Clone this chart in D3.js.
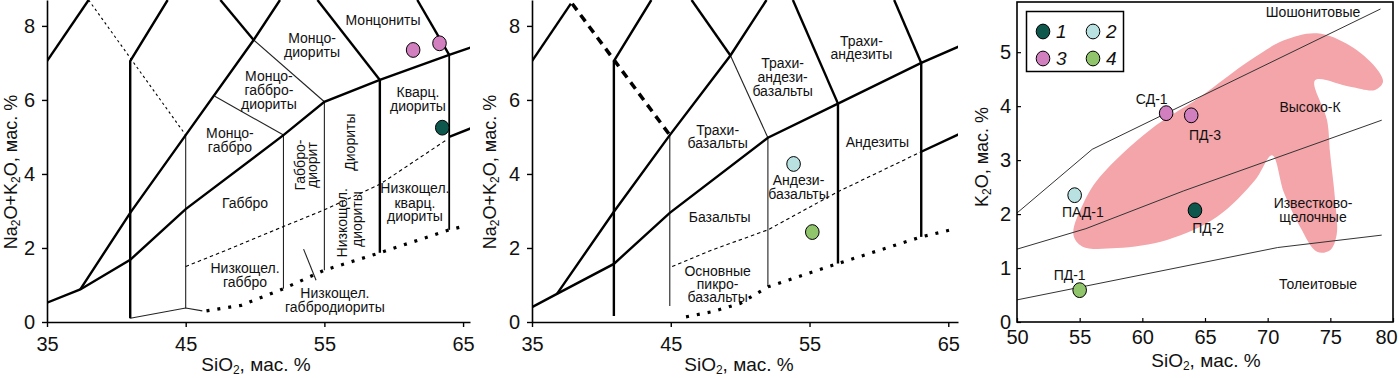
<!DOCTYPE html>
<html><head><meta charset="utf-8">
<script src="https://cdn.jsdelivr.net/npm/d3@7"></script>
<style>body{margin:0;background:#fff} text{font-family:"Liberation Sans",Arial,sans-serif;fill:#111}</style>
</head><body>
<svg id="c" width="1400" height="378"></svg>
<script>
// ---------- data ----------
const tasXTicks = [35, 45, 55, 65];
const tasYTicks = [0, 2, 4, 6, 8];
const kXTicks = [50, 55, 60, 65, 70, 75, 80];
const kYTicks = [0, 1, 2, 3, 4, 5];

const groupColors = {1: "#0e574d", 2: "#b9e1e1", 3: "#d27fc0", 4: "#90c56c"};
const legendItems = [1, 2, 3, 4];

// Panel 1 (plutonic TAS) boundaries
const p1Thick = [
  [[35,7.05],[38,8.7]],
  [[41,0.1],[41,7.05],[43.7,8.7]],
  [[35,0.52],[37.4,0.88],[41,1.68],[45,3.05],[52.05,5.05],[55,5.95],[59,6.54],[64,7.22],[65.6,7.42]],
  [[37.4,0.88],[41,2.95],[45,5.05],[49.9,7.62],[51.8,8.7]],
  [[47.5,8.7],[49.9,7.62]],
  [[54.5,8.7],[59,6.54]],
  [[61.7,8.7],[64,7.22]],
  [[64,5.0],[65.6,5.24]],
  [[59,1.87],[59,6.54]]
];
const p1Thin = [
  [[41,0.1],[45,0.38],[46.2,0.3]],
  [[45,0.38],[45,5.05]],
  [[47.1,6.1],[52.05,5.05]],
  [[49.9,7.62],[55,5.95]],
  [[52.05,0.9],[52.05,5.05]],
  [[55,1.4],[55,5.95]],
  [[53.5,1.97],[54.4,1.13]]
];
const p1Medium = [ [[64,2.49],[64,7.22]] ];
const p1DashSmall = [ [[38,8.7],[45,5.05]] ];
const p1DashCurve = [ [[45,1.5],[48,1.95],[52.05,2.58],[55,3.03],[59,3.72],[63.8,4.92]] ];
const p1Dotted = [ [[46.5,0.3],[49,0.45],[52.05,0.9],[55,1.4],[59,1.87],[64,2.49],[65.2,2.6]] ];

// Panel 2 (volcanic TAS) boundaries
const p2Thick = [
  [[35,7.05],[37.8,8.6]],
  [[40.9,0.16],[40.9,7.05],[43.6,8.7]],
  [[35,0.4],[36.8,0.76],[40.9,1.57],[44.93,2.95],[52,4.98],[57.05,5.9],[63.05,7.0],[65.8,7.45]],
  [[36.8,0.76],[40.9,2.98],[44.93,5.05],[49.3,7.2],[51.9,8.7]],
  [[46.5,8.7],[49.3,7.2]],
  [[53.8,8.7],[57.05,5.9]],
  [[61.1,8.7],[63.05,7.0]],
  [[63.05,4.6],[65.8,5.08]],
  [[57.05,1.58],[57.05,5.9]],
  [[63.05,2.3],[63.05,7.0]]
];
const p2Thin = [
  [[44.93,0.43],[44.93,5.05]],
  [[52,0.97],[52,4.98]],
  [[49.3,7.2],[52,4.98]]
];
const p2DashThick = [ [[37.9,8.6],[44.93,5.05]] ];
const p2DashCurve = [ [[45.1,1.5],[48,1.95],[52,2.49],[57.05,3.52],[63.05,4.6]] ];
const p2Dotted = [ [[46.1,0.14],[48,0.28],[50,0.5],[52,0.95],[57.05,1.58],[63.05,2.3],[65.3,2.5]] ];

// Panel 3 (K2O–SiO2) boundaries
const kLines = [
  [[50,2.02],[56,3.2],[79,5.8]],
  [[50,1.35],[55.5,1.73],[63.3,2.43],[79.1,3.74]],
  [[50,0.41],[70.8,1.38],[79.1,1.61]]
];
// pink field outline
const kField = [[54.5,1.62],[55.3,2.2],[56.62,2.69],[60.61,3.56],[64.6,4.17],[68.6,4.85],[71.3,5.22],[73.94,5.35],[76.58,5.12],[78.6,4.72],[79.2,4.45],[78.57,4.3],[76.58,4.36],[73.78,4.48],[74.74,3.74],[74.98,3.13],[75.38,2.26],[75.5,1.61],[74.98,1.33],[73.94,1.3],[72.59,1.76],[71.31,2.39],[70.35,3.09],[69.0,2.63],[65.96,1.95],[61.97,1.52],[57.98,1.37],[55.2,1.4]];

// sample points
const p1Points = [{x:61.4,y:7.35,g:3},{x:63.3,y:7.53,g:3},{x:63.5,y:5.25,g:1}];
const p2Points = [{x:53.85,y:4.27,g:2},{x:55.2,y:2.43,g:4}];
const kPoints = [
  {name:"СД-1",x:61.9,y:3.87,g:3},
  {name:"ПД-3",x:63.9,y:3.83,g:3},
  {name:"ПАД-1",x:54.6,y:2.35,g:2},
  {name:"ПД-2",x:64.2,y:2.07,g:1},
  {name:"ПД-1",x:55.0,y:0.59,g:4}
];
const kPointLabels = [
  {t:"СД-1",x:60.75,y:4.13},{t:"ПД-3",x:65.0,y:3.46},{t:"ПАД-1",x:55.25,y:2.04},
  {t:"ПД-2",x:65.25,y:1.74},{t:"ПД-1",x:54.2,y:0.87}
];

// region labels (data coordinates)
const p1Labels = [
  {t:"Монцониты",x:59.23,y:8.16},
  {t:"Монцо-",x:54.11,y:7.68},{t:"диориты",x:54.11,y:7.3},
  {t:"Монцо-",x:51.0,y:6.64},{t:"габбро-",x:51.0,y:6.26},{t:"диориты",x:51.0,y:5.9},
  {t:"Монцо-",x:48.19,y:5.11},{t:"габбро",x:48.19,y:4.73},
  {t:"Кварц.",x:61.75,y:6.22},{t:"диориты",x:61.75,y:5.84},
  {t:"Габбро-",x:53.24,y:4.24,r:true},{t:"диорит",x:54.11,y:4.24,r:true},
  {t:"Диориты",x:56.85,y:4.86,r:true},
  {t:"Габбро",x:49.28,y:3.22},
  {t:"Низкощел.",x:61.53,y:3.62},{t:"кварц.",x:61.53,y:3.22},{t:"диориты",x:61.53,y:2.86},
  {t:"Низкощел.",x:56.27,y:2.68,r:true},{t:"диориты",x:57.35,y:2.78,r:true},
  {t:"Низкощел.",x:49.28,y:1.46},{t:"габбро",x:49.28,y:1.08},
  {t:"Низкощел.",x:55.76,y:0.78},{t:"габбродиориты",x:55.76,y:0.41}
];
const p2Labels = [
  {t:"Трахи-",x:58.74,y:7.59},{t:"андезиты",x:58.74,y:7.23},
  {t:"Трахи-",x:53.06,y:6.99},{t:"андези-",x:53.06,y:6.62},{t:"базальты",x:53.06,y:6.24},
  {t:"Трахи-",x:48.38,y:5.19},{t:"базальты",x:48.38,y:4.83},
  {t:"Андезиты",x:59.89,y:4.86},
  {t:"Андези-",x:54.21,y:3.84},{t:"базальты",x:54.21,y:3.46},
  {t:"Базальты",x:48.53,y:2.84},
  {t:"Основные",x:48.38,y:1.38},{t:"пикро-",x:48.38,y:1.03},{t:"базальты",x:48.38,y:0.68}
];
const kLabels = [
  {t:"Шошонитовые",x:73.62,y:5.74},
  {t:"Высоко-К",x:73.38,y:3.98},
  {t:"Известково-",x:73.62,y:2.2},{t:"щелочные",x:73.62,y:1.94},
  {t:"Толеитовые",x:74.02,y:0.7}
];

// ---------- drawing ----------
const svg = d3.select("#c");
const FONT = '"Liberation Sans",Arial,sans-serif';

const x1 = d3.scaleLinear().domain([35,65.5]).range([47,470]);
const x2 = d3.scaleLinear().domain([35,65.7]).range([532,958]);
const yT = d3.scaleLinear().domain([0,8.7]).range([322,0]);
const x3 = d3.scaleLinear().domain([50,80]).range([1017,1393]);
const y3 = d3.scaleLinear().domain([0,5.93]).range([322,2]);

function addSub(sel, parts){
  parts.forEach(p=>{
    const ts = sel.append("tspan").text(p[0]);
    if(p[1]){ ts.attr("font-size","12px").attr("dy","3"); }
    else if(p[2]){ ts.attr("dy","-3"); }
  });
}
function xTitle(cx, y, fs){
  const t = svg.append("text").attr("x",cx).attr("y",y).attr("text-anchor","middle")
    .attr("font-size",fs+"px");
  addSub(t, [["SiO"],["2",true],[", мас. %",false,true]]);
}

function tasPanel(xs, ys, cfg){
  const g = svg.append("g");
  const clipId = "clip"+cfg.id;
  svg.append("clipPath").attr("id",clipId).append("rect")
    .attr("x",xs.range()[0]).attr("y",0).attr("width",xs.range()[1]-xs.range()[0]).attr("height",ys.range()[0]);
  const pg = g.append("g").attr("clip-path",`url(#${clipId})`);
  const line = d3.line().x(d=>xs(d[0])).y(d=>ys(d[1]));
  const draw = (arr, w, dash, cap, color) => arr.forEach(a=>pg.append("path").attr("d",line(a))
      .attr("fill","none").attr("stroke",color||"#000").attr("stroke-width",w)
      .attr("stroke-dasharray",dash||null).attr("stroke-linecap",cap||"butt").attr("stroke-linejoin","miter"));
  cfg.thin && draw(cfg.thin, 1.1, null, null, "#222");
  cfg.medium && draw(cfg.medium, 1.8);
  cfg.thick && draw(cfg.thick, 2.4);
  cfg.dashSmall && draw(cfg.dashSmall, 1.1, "2.5,3");
  cfg.dashThick && draw(cfg.dashThick, 3.5, "8,6");
  cfg.dashCurve && draw(cfg.dashCurve, 1.1, "3.5,3");
  cfg.dotted && draw(cfg.dotted, 3.2, "3,8");

  // labels
  cfg.labels.forEach(l=>{
    const t = g.append("text").attr("font-size","14px").attr("text-anchor","middle").text(l.t);
    if(l.r){ t.attr("transform",`translate(${xs(l.x)},${ys(l.y)}) rotate(-90)`).attr("dy","0.35em"); }
    else { t.attr("x",xs(l.x)).attr("y",ys(l.y)).attr("dy","0.35em"); }
  });

  // points
  g.selectAll("ellipse.pt").data(cfg.points).join("ellipse")
    .attr("cx",d=>xs(d.x)).attr("cy",d=>ys(d.y)).attr("rx",6.8).attr("ry",7.4)
    .attr("fill",d=>groupColors[d.g]).attr("stroke","#000").attr("stroke-width",1);

  // axes
  const ax = g.append("g").attr("transform",`translate(0,${ys(0)})`)
    .call(d3.axisBottom(xs).tickValues(tasXTicks).tickSize(5).tickSizeOuter(0).tickPadding(10).tickFormat(d3.format("d")));
  const ay = g.append("g").attr("transform",`translate(${xs.range()[0]},0)`)
    .call(d3.axisLeft(ys).tickValues(tasYTicks).tickSize(5).tickSizeOuter(0).tickPadding(7).tickFormat(d3.format("d")));
  [ax,ay].forEach(a=>{
    a.select(".domain").attr("stroke","#000").attr("stroke-width",1.6);
    a.selectAll(".tick line").attr("stroke","#000").attr("stroke-width",1.4);
    a.selectAll("text").attr("font-size","20px").attr("font-family",FONT).attr("fill","#111");
  });

  xTitle(cfg.xTitleX, 371, 19);
  const yt = svg.append("text").attr("transform",`translate(${cfg.yTitleX},172) rotate(-90)`)
    .attr("text-anchor","middle").attr("font-size","18px");
  addSub(yt, [["Na"],["2",true],["O+K",false,true],["2",true],["O, мас. %",false,true]]);
}

tasPanel(x1, yT, {id:1, thick:p1Thick, thin:p1Thin, medium:p1Medium, dashSmall:p1DashSmall,
  dashCurve:p1DashCurve, dotted:p1Dotted, labels:p1Labels, points:p1Points, xTitleX:256, yTitleX:16.5});
tasPanel(x2, yT, {id:2, thick:p2Thick, thin:p2Thin, dashThick:p2DashThick,
  dashCurve:p2DashCurve, dotted:p2Dotted, labels:p2Labels, points:p2Points, xTitleX:739, yTitleX:496});

// ---------- panel 3 ----------
const g3 = svg.append("g");
const line3 = d3.line().x(d=>x3(d[0])).y(d=>y3(d[1]));
g3.append("path").attr("d", d3.line().x(d=>x3(d[0])).y(d=>y3(d[1])).curve(d3.curveCatmullRomClosed.alpha(0.5))(kField))
  .attr("fill","#f3a5a9").attr("stroke","none");
kLines.forEach(a=>g3.append("path").attr("d",line3(a)).attr("fill","none").attr("stroke","#333").attr("stroke-width",1));

kLabels.forEach(l=>g3.append("text").attr("x",x3(l.x)).attr("y",y3(l.y)).attr("dy","0.35em")
  .attr("text-anchor","middle").attr("font-size","14px").text(l.t));
kPointLabels.forEach(l=>g3.append("text").attr("x",x3(l.x)).attr("y",y3(l.y)).attr("dy","0.35em")
  .attr("text-anchor","middle").attr("font-size","14px").text(l.t));

g3.selectAll("ellipse.kp").data(kPoints).join("ellipse")
  .attr("cx",d=>x3(d.x)).attr("cy",d=>y3(d.y)).attr("rx",6.8).attr("ry",7.4)
  .attr("fill",d=>groupColors[d.g]).attr("stroke","#000").attr("stroke-width",1);

const ax3 = g3.append("g").attr("transform",`translate(0,${y3(0)})`)
  .call(d3.axisBottom(x3).tickValues(kXTicks).tickSize(-4).tickSizeOuter(0).tickPadding(8).tickFormat(d3.format("d")));
const ay3 = g3.append("g").attr("transform",`translate(${x3(50)},0)`)
  .call(d3.axisLeft(y3).tickValues(kYTicks).tickSize(-4).tickSizeOuter(0).tickPadding(6).tickFormat(d3.format("d")));
[ax3,ay3].forEach(a=>{
  a.select(".domain").remove();
  a.selectAll(".tick line").attr("stroke","#000").attr("stroke-width",1.2);
  a.selectAll("text").attr("font-size","20px").attr("font-family",FONT).attr("fill","#111");
});
ax3.selectAll(".tick text").filter(d=>d===80).attr("dx","-7");
g3.append("rect").attr("x",x3(50)).attr("y",y3(5.93)).attr("width",x3(80)-x3(50)).attr("height",y3(0)-y3(5.93))
  .attr("fill","none").attr("stroke","#000").attr("stroke-width",1.6);

// legend
const lg = g3.append("g");
lg.append("rect").attr("x",1026.5).attr("y",11.5).attr("width",97).attr("height",60)
  .attr("fill","#fff").attr("stroke","#000").attr("stroke-width",1.5);
legendItems.forEach((k,i)=>{
  const cx = 1043 + (i%2)*50, cy = 31.5 + Math.floor(i/2)*27;
  lg.append("ellipse").attr("cx",cx).attr("cy",cy).attr("rx",6.8).attr("ry",7.4)
    .attr("fill",groupColors[k]).attr("stroke","#000").attr("stroke-width",1);
  lg.append("text").attr("x",cx+13).attr("y",cy).attr("dy","0.36em").attr("font-size","19px")
    .attr("font-style","italic").text(k);
});

xTitle(1206, 367, 19);
const yt3 = svg.append("text").attr("transform",`translate(988,157) rotate(-90)`)
  .attr("text-anchor","middle").attr("font-size","18px");
addSub(yt3, [["K"],["2",true],["O, мас. %",false,true]]);
</script>
</body></html>
